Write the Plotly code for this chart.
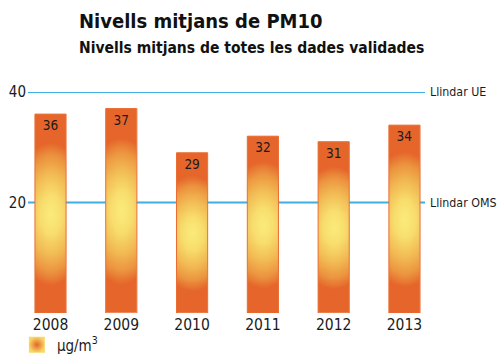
import numpy as np
import plotly.graph_objects as go

# PM10 annual mean levels (µg/m³)
years = ["2008", "2009", "2010", "2011", "2012", "2013"]
pm10 = [36, 37, 29, 32, 31, 34]

# Reference thresholds
threshold_values = [40, 20]
threshold_labels = ["Llindar UE", "Llindar OMS"]

title = "Nivells mitjans de PM10"
subtitle = "Nivells mitjans de totes les dades validades"
unit_label = "µg/m<sup>3</sup>"

FONT = "DejaVu Sans Condensed, DejaVu Sans, sans-serif"
TXT = "#1b1b1b"
BAR_W = 0.44
ORANGE = "#E5652B"
YELLOW = "#FAEC7C"
BLUE = "#3FAEE3"

gradient_scale = [
    [0.00, YELLOW],
    [0.20, "#F8DE6E"],
    [0.40, "#F2BC55"],
    [0.58, "#EC9540"],
    [0.72, ORANGE],
    [1.00, ORANGE],
]

fig = go.Figure()

# Each bar is filled with an elliptical gradient: yellow at its centre, orange towards the ends
nx, ny = 14, 48
for i, v in enumerate(pm10):
    xe = np.linspace(i - BAR_W / 2, i + BAR_W / 2, nx + 1)
    ye = np.linspace(0, v, ny + 1)
    xc = (xe[:-1] + xe[1:]) / 2
    yc = (ye[:-1] + ye[1:]) / 2
    dx = (xc - i) / (BAR_W / 2) * 0.3
    dy = (yc - v / 2) / (v / 2)
    d = np.sqrt(dx[None, :] ** 2 + dy[:, None] ** 2)
    fig.add_trace(go.Heatmap(
        x=xe, y=ye, z=np.clip(d, 0, 1),
        zmin=0, zmax=1, colorscale=gradient_scale, zsmooth="best",
        showscale=False, hoverinfo="skip", showlegend=False,
    ))

# Outline and value labels of the bars
fig.add_trace(go.Bar(
    x=list(range(len(years))), y=pm10, width=BAR_W,
    marker=dict(color="rgba(0,0,0,0)", line=dict(color="#EA6D33", width=1)),
    text=[str(v) for v in pm10], textposition="inside", insidetextanchor="end",
    textfont=dict(family=FONT, size=13.5, color=TXT),
    showlegend=False, hoverinfo="skip",
))

# Legend swatch for the unit
fig.add_trace(go.Scatter(
    x=[None], y=[None], mode="markers", name=unit_label,
    marker=dict(symbol="square", size=16, color="#F8D765",
                gradient=dict(type="radial", color=ORANGE),
                line=dict(width=0)),
))

# Threshold lines with their labels on the right
for val, lab in zip(threshold_values, threshold_labels):
    fig.add_shape(
        type="line", xref="paper", x0=0, x1=1, yref="y", y0=val, y1=val,
        line=dict(color=BLUE, width=2), layer="below",
    )
    fig.add_annotation(
        x=1, xref="paper", y=val, yref="y", text=lab, showarrow=False,
        xanchor="left", yanchor="middle", xshift=3,
        font=dict(family=FONT, size=12.3, color=TXT),
    )

fig.add_annotation(
    x=0.1234, xref="paper", y=1.385, yref="paper", text=f"<b>{title}</b>",
    showarrow=False, xanchor="left", yanchor="top",
    font=dict(family=FONT, size=20, color="#111111"),
)
fig.add_annotation(
    x=0.1234, xref="paper", y=1.25, yref="paper", text=f"<b>{subtitle}</b>",
    showarrow=False, xanchor="left", yanchor="top",
    font=dict(family=FONT, size=15.5, color="#111111"),
)

fig.update_layout(
    width=499, height=355,
    margin=dict(l=28, r=74, t=92, b=42, autoexpand=False),
    paper_bgcolor="white", plot_bgcolor="white",
    xaxis=dict(
        range=[-0.318, 5.29], tickvals=list(range(len(years))), ticktext=years,
        showgrid=False, zeroline=False, showline=False, ticks="",
        tickfont=dict(family=FONT, size=15.5, color=TXT),
    ),
    yaxis=dict(
        range=[0, 40], tickvals=threshold_values, showgrid=False,
        zeroline=False, showline=False, ticks="", ticklabelstandoff=1,
        tickfont=dict(family=FONT, size=15, color=TXT),
    ),
    showlegend=True,
    legend=dict(
        x=-0.028, xanchor="left", y=-0.07, yanchor="top", orientation="h",
        font=dict(family=FONT, size=15, color=TXT),
        bgcolor="rgba(0,0,0,0)", itemwidth=30,
    ),
)

fig.write_html("out.html")
